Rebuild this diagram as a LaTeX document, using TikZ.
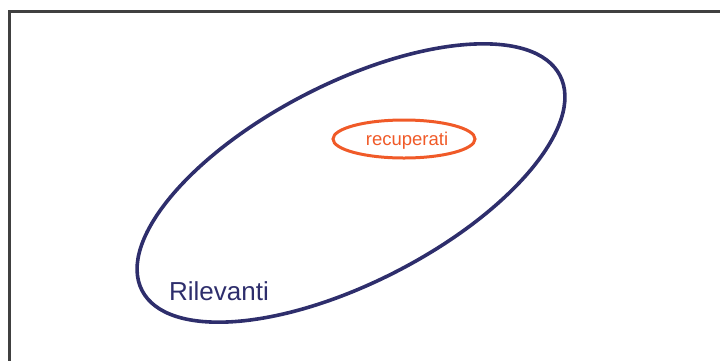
\documentclass[tikz,border=0pt]{standalone}
\usepackage{fontspec}
\setmainfont{Liberation Sans}
\definecolor{navy}{HTML}{2E2E6C}
\definecolor{orng}{HTML}{F05A28}
\definecolor{frame}{HTML}{404040}
\begin{document}
\begin{tikzpicture}[x=1pt,y=-1pt]
\tikzset{
  bigset/.style={draw=navy,line width=3.6pt},
  smallset/.style={draw=orng,line width=3pt},
  framestyle/.style={draw=frame,line width=3pt}
}
\useasboundingbox (0,0) rectangle (720,360);
\draw[framestyle] (9,370) -- (9,11) -- (730,11);
\draw[bigset,rotate around={27.2:(351,183)}] (351,183) ellipse [x radius=235pt, y radius=99.5pt];
\draw[smallset] (404,139) ellipse [x radius=71pt, y radius=19pt];
\node[text=orng,font=\fontsize{18.5}{20}\selectfont,inner sep=0pt] (rec) at (407,141) {recuperati};
\node[text=navy,font=\fontsize{26}{28}\selectfont,inner sep=0pt] (ril) at (219,291) {Rilevanti};
\end{tikzpicture}
\end{document}
